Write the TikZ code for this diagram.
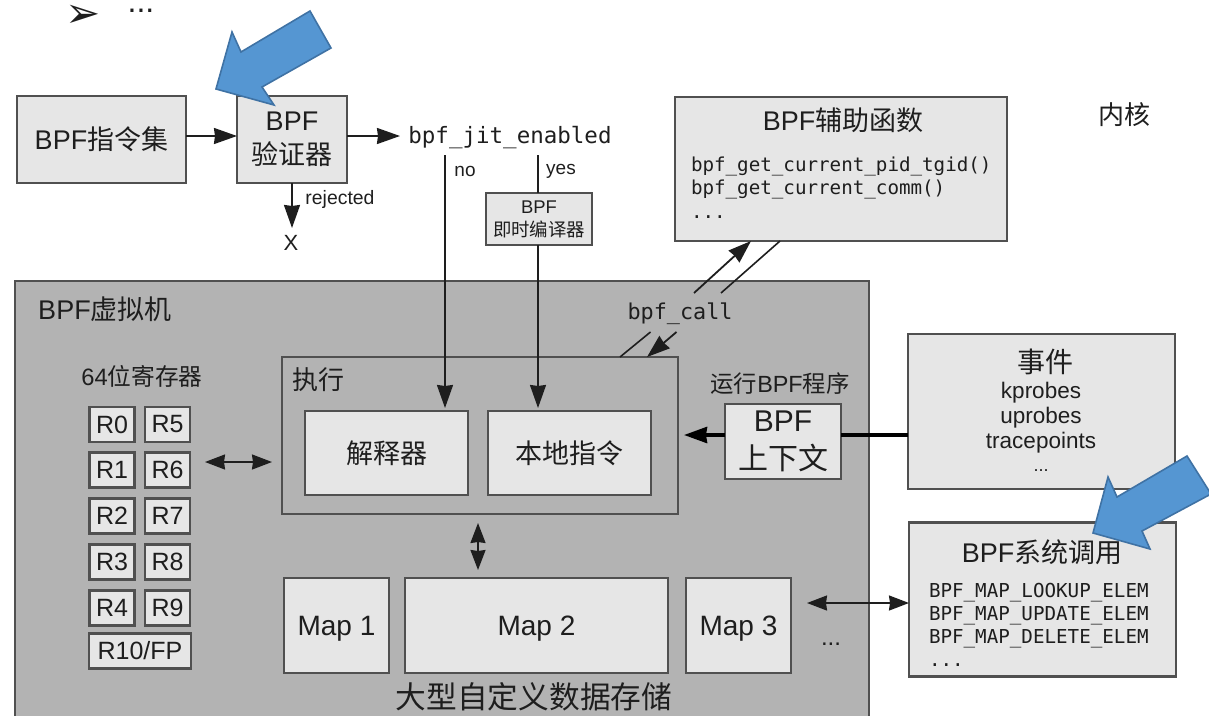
\documentclass[tikz,border=0pt]{standalone}
\usepackage{fontspec}
\setmainfont{Liberation Sans}
\setmonofont{DejaVu Sans Mono}
\newfontfamily\cjk{Noto Sans CJK SC}
\newfontfamily\dingbat{DejaVu Sans}
\usetikzlibrary{
  arrows.meta,
  positioning,
}
\newcommand{\zh}  [1]{{\cjk #1}}
\newcommand{\fs}  [1]{\fontsize{#1}{1.25\dimexpr#1pt\relax}\selectfont}
\definecolor{mybox}{HTML}{E6E6E6}
\definecolor{myvm}{HTML}{B3B3B3}
\definecolor{myline}{HTML}{505050}
\definecolor{myink}{HTML}{1E1E1E}
\definecolor{myblue}{HTML}{5596D2}
\definecolor{mybluedark}{HTML}{3F72A4}
\tikzset{
  x=1pt,
  y=-1pt,
  my tip/.tip={Stealth[inset=1pt,length=23pt,width=16pt]},
  my small tip/.tip={Stealth[inset=1pt,length=20pt,width=15pt]},
  my box/.style={
    draw=myline,
    fill=mybox,
    line width=2.4pt,
    inner sep=0pt,
    outer sep=0pt,
    text=myink,
    align=center,
    rectangle
  },
  my vm/.style={
    my box,
    fill=myvm
  },
  my reg/.style={
    my box,
    minimum width=45pt,
    minimum height=35pt,
    font=\fs{25}
  },
  my map/.style={
    my box,
    minimum height=95pt,
    text depth=0pt,
    font=\fs{28}
  },
  my label/.style={
    inner sep=0pt,
    outer sep=0pt,
    text=myink,
    align=center
  },
  my code/.style={
    my label,
    align=left,
    font=\ttfamily\fs{19.2}
  },
  flow/.style={
    draw=myink,
    line width=1.8pt,
    -{my tip}
  },
  flow both/.style={
    draw=myink,
    line width=1.8pt,
    {my small tip}-{my small tip}
  },
  plain flow/.style={
    draw=myink,
    line width=1.6pt
  },
  my pointer/.style={
    draw=mybluedark,
    fill=myblue,
    line width=1.6pt,
    line join=miter
  }
}
\begin{document}
\begin{tikzpicture}
\useasboundingbox (0,0) rectangle (1209,715);

% top of the slide
\node[my label,font=\dingbat\fs{42}] (bullet) at (83,16) {➢};
\node[my label,font=\fs{32},anchor=base] (more) at (141,12) {...};

% loading path
\node[my box,minimum width=169pt,minimum height=87pt,font=\fs{27}] (insn) at (101.5,139.5) {BPF\zh{指令集}};
\node[my box,minimum width=110pt,minimum height=87pt,font=\fs{27}] (verifier) at (292,139.5) {BPF\\\zh{验证器}};
\node[my label,font=\ttfamily\fs{22.5}] (jitflag) at (510,138) {bpf\_jit\_enabled};
\node[my label,font=\fs{22}] (reject) at (291,243) {X};
\node[my label,font=\fs{19.4}] (rejected) at (340,199) {rejected};
\node[my label,font=\fs{19}] (no) at (465,171) {no};
\node[my label,font=\fs{19}] (yes) at (561,171) {yes};
\node[my box,minimum width=106pt,minimum height=52pt,font=\fs{18.4},line width=2pt] (jit) at (539,219) {BPF\\\zh{即时编译器}};
\coordinate (noTop) at (445,155);
\coordinate (yesTop) at (538,155);

% helpers and kernel label
\node[my box,minimum width=332pt,minimum height=144pt] (helper) at (841,169) {};
\node[my label,font=\fs{27}] (helpertitle) at (843,120) {BPF\zh{辅助函数}};
\node[my code,anchor=west] (helperfn1) at (691,166) {bpf\_get\_current\_pid\_tgid()};
\node[my code,anchor=west] (helperfn2) at (691,189) {bpf\_get\_current\_comm()};
\node[my code,anchor=west] (helperfn3) at (691,217) {...};
\node[my label,font=\fs{26}] (kernel) at (1124,115) {\zh{内核}};

% virtual machine
\node[my vm,minimum width=854pt,minimum height=460pt] (vm) at (442,511) {};
\node[my label,font=\fs{27}] (vmtitle) at (105,309) {BPF\zh{虚拟机}};
\node[my label,font=\ttfamily\fs{21.8}] (call) at (680,314) {bpf\_call};
\node[my label,font=\fs{23.7}] (regtitle) at (142,376) {64\zh{位寄存器}};

% registers
\node[my reg] (r0) at (112,424.5) {R0};
\node[my reg] (r5) at (167.5,424.5) {R5};
\node[my reg] (r1) at (112,470) {R1};
\node[my reg] (r6) at (167.5,470) {R6};
\node[my reg] (r2) at (112,516) {R2};
\node[my reg] (r7) at (167.5,516) {R7};
\node[my reg] (r3) at (112,562) {R3};
\node[my reg] (r8) at (167.5,562) {R8};
\node[my reg] (r4) at (112,608) {R4};
\node[my reg] (r9) at (167.5,608) {R9};
\node[my reg,minimum width=102pt] (r10) at (140,651) {R10/FP};

% execution
\node[my vm,minimum width=396pt,minimum height=157pt] (exec) at (480,435.5) {};
\node[my label,font=\fs{26}] (exectitle) at (318,380) {\zh{执行}};
\node[my box,minimum width=163pt,minimum height=84pt,font=\fs{27}] (interp) at (386.5,453) {\zh{解释器}};
\node[my box,minimum width=163pt,minimum height=84pt,font=\fs{27}] (native) at (569.5,453) {\zh{本地指令}};

% maps
\node[my map,minimum width=105pt] (map1) at (336.5,625.5) {Map 1};
\node[my map,minimum width=263pt] (map2) at (536.5,625.5) {Map 2};
\node[my map,minimum width=105pt] (map3) at (738.5,625.5) {Map 3};
\node[my label,font=\fs{24},anchor=base] (mapmore) at (831,645) {...};
\node[my label,font=\fs{30.7}] (maptitle) at (534,697) {\zh{大型自定义数据存储}};

% context
\node[my label,font=\fs{23.4}] (ctxtitle) at (780,384) {\zh{运行}BPF\zh{程序}};
\node[my box,minimum width=116pt,minimum height=75pt,font=\fs{30}] (ctx) at (783,441.5) {BPF\\\zh{上下文}};

% events
\node[my box,minimum width=267pt,minimum height=155pt] (events) at (1041.5,411.5) {};
\node[my label,font=\fs{28}] (eventstitle) at (1045,362) {\zh{事件}};
\node[my label,font=\fs{22.5}] (kprobes) at (1041,393) {kprobes};
\node[my label,font=\fs{22.5}] (uprobes) at (1041,418) {uprobes};
\node[my label,font=\fs{22.5}] (tracepoints) at (1041,443) {tracepoints};
\node[my label,font=\fs{18},anchor=base] (eventsmore) at (1041,471) {...};

% syscalls
\node[my box,minimum width=267pt,minimum height=154pt] (syscall) at (1042.5,599.5) {};
\node[my label,font=\fs{27}] (syscalltitle) at (1042,552) {BPF\zh{系统调用}};
\node[my code,anchor=west] (cmd1) at (929,593) {BPF\_MAP\_LOOKUP\_ELEM};
\node[my code,anchor=west] (cmd2) at (929,616) {BPF\_MAP\_UPDATE\_ELEM};
\node[my code,anchor=west] (cmd3) at (929,639) {BPF\_MAP\_DELETE\_ELEM};
\node[my code,anchor=west] (cmd4) at (929,665) {...};

% connectors
\coordinate (insnEast) at (186,136);
\coordinate (verifierWest) at (237,136);
\coordinate (verifierEast) at (347,136);
\coordinate (jitWest) at (400,136);
\coordinate (rejectTop) at (292,228);
\coordinate (callUpA) at (694,293);
\coordinate (callUpB) at (751,241);
\coordinate (callUpC) at (721,293);
\coordinate (callUpD) at (780,241);
\coordinate (callDownA) at (650.5,332);
\coordinate (callDownB) at (620,357);
\coordinate (callDownC) at (676.5,332);
\coordinate (callDownD) at (647,357);
\coordinate (regEast) at (205,462);
\coordinate (execWest) at (272,462);
\coordinate (execSouth) at (478,523);
\coordinate (mapNorth) at (478,570);
\coordinate (map3East) at (807,603);
\coordinate (syscallWest) at (909,603);
\coordinate (ctxTip) at (684,435);

\draw[flow] (insnEast) -- (verifierWest);
\draw[flow] (verifierEast) -- (jitWest);
\draw[flow] (verifier.south) -- (rejectTop);
\draw[plain flow] (yesTop) -- (yesTop |- jit.north);
\draw[flow,shorten >=3pt] (noTop) -- (noTop |- interp.north);
\draw[flow,shorten >=3pt] (yesTop |- jit.south) -- (yesTop |- native.north);
\draw[flow] (callUpA) -- (callUpB);
\draw[plain flow] (callUpC) -- (callUpD);
\draw[plain flow] (callDownA) -- (callDownB);
\draw[flow] (callDownC) -- (callDownD);
\draw[flow both] (regEast) -- (execWest);
\draw[flow both] (execSouth) -- (mapNorth);
\draw[flow both] (map3East) -- (syscallWest);
\draw[draw=black,line width=4.5pt] (events.west |- 0,435) -- (ctx.east |- 0,435);
\draw[draw=black,line width=3.5pt,-{my tip}] (ctx.west |- 0,435) -- (ctxTip);

% blue pointers
\draw[my pointer] (310,11) -- (331,48) -- (262,87) -- (274,105) -- (216,89) -- (232,32) -- (241,52) -- cycle;
\draw[my pointer] (1187,456) -- (1211,494) -- (1142,531) -- (1150,549) -- (1093,533) -- (1108,477) -- (1117,497) -- cycle;
\end{tikzpicture}
\end{document}
